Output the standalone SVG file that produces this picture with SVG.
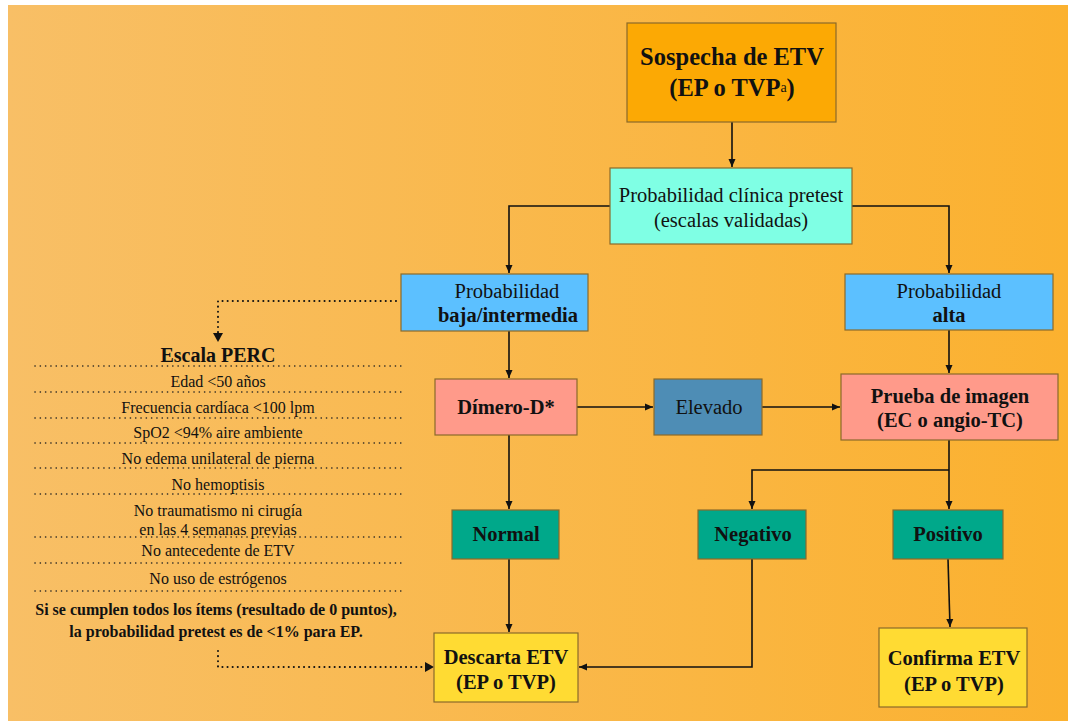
<svg xmlns="http://www.w3.org/2000/svg" width="1068" height="721" viewBox="0 0 1068 721">
<defs>
<linearGradient id="bg" x1="0" y1="0" x2="1" y2="0">
<stop offset="0" stop-color="#F8BF66"/>
<stop offset="1" stop-color="#FBB12F"/>
</linearGradient>
<marker id="ah" markerWidth="10" markerHeight="10" refX="9" refY="5" orient="auto" markerUnits="userSpaceOnUse">
<path d="M1,1.5 L9,5 L1,8.5 Z" fill="#111"/>
</marker>
</defs>
<style>
.box{stroke:#8a6a2a;stroke-width:1.2}
.t{font-family:"Liberation Serif","Times New Roman",serif;fill:#111;text-anchor:middle}
.b{font-weight:bold}
.n{font-size:20.5px}
.s{font-size:16px}
.c{fill:none;stroke:#111;stroke-width:1.6}
.d{fill:none;stroke:#111;stroke-width:2;stroke-dasharray:0.1 5;stroke-linecap:round}
.sep{fill:none;stroke:#222;stroke-width:1.6;stroke-dasharray:0.1 5.2;stroke-linecap:round}
</style>
<rect x="0" y="0" width="1068" height="721" fill="#fff"/>
<rect x="8" y="5" width="1060" height="716" fill="url(#bg)"/>

<g id="connectors">
<path class="c" d="M732,122 V167" marker-end="url(#ah)"/>
<path class="c" d="M610,206 H509 V273" marker-end="url(#ah)"/>
<path class="c" d="M852,206 H949 V273" marker-end="url(#ah)"/>
<path class="c" d="M509,331 V378" marker-end="url(#ah)"/>
<path class="c" d="M949,330 V373" marker-end="url(#ah)"/>
<path class="c" d="M577,407 H653" marker-end="url(#ah)"/>
<path class="c" d="M762,407 H840" marker-end="url(#ah)"/>
<path class="c" d="M949,440 V509" marker-end="url(#ah)"/>
<path class="c" d="M949,470 H752 V509" marker-end="url(#ah)"/>
<path class="c" d="M509,435 V509" marker-end="url(#ah)"/>
<path class="c" d="M509,559 V632" marker-end="url(#ah)"/>
<path class="c" d="M752,559 V667 H579" marker-end="url(#ah)"/>
<path class="c" d="M948,559 L950,627" marker-end="url(#ah)"/>
<path class="d" d="M396,301 H218 V333"/>
<path d="M213,333 L223,333 L218,342 Z" fill="#111"/>
<path class="d" d="M218,651 V667 H425"/>
<path d="M425,662 L434,667 L425,672 Z" fill="#111"/>
</g>

<g id="sospecha">
<rect class="box" x="627" y="23" width="209" height="99" fill="#FCA904"/>
<text class="t b" x="732" y="65" font-size="24.5">Sospecha de ETV</text>
<text class="t b" x="732" y="96" font-size="24.5">(EP o TVP<tspan font-size="14" font-weight="normal" dy="-4">a</tspan><tspan dy="4">)</tspan></text>
</g>

<g id="prob-clinica">
<rect class="box" x="610" y="168" width="242" height="76" fill="#7FFFE4"/>
<text class="t n" x="731" y="202">Probabilidad clínica pretest</text>
<text class="t n" x="731" y="227">(escalas validadas)</text>
</g>

<g id="prob-baja">
<rect class="box" x="401" y="274" width="187" height="57" fill="#5CC0FF"/>
<text class="t n" x="507" y="298">Probabilidad</text>
<text class="t b n" x="508" y="322">baja/intermedia</text>
</g>

<g id="prob-alta">
<rect class="box" x="845" y="274" width="208" height="56" fill="#5CC0FF"/>
<text class="t n" x="949" y="298">Probabilidad</text>
<text class="t b n" x="949" y="322">alta</text>
</g>

<g id="dimero">
<rect class="box" x="435" y="379" width="142" height="56" fill="#FF9A8A"/>
<text class="t b n" x="506" y="414">Dímero-D*</text>
</g>

<g id="elevado">
<rect class="box" x="654" y="379" width="108" height="56" fill="#4E8DB5"/>
<text class="t n" x="709" y="414">Elevado</text>
</g>

<g id="prueba">
<rect class="box" x="841" y="374" width="217" height="66" fill="#FF9A8A"/>
<text class="t b n" x="950" y="403">Prueba de imagen</text>
<text class="t b n" x="950" y="427">(EC o angio-TC)</text>
</g>

<g id="normal">
<rect class="box" x="452" y="510" width="107" height="49" fill="#00A88A"/>
<text class="t b n" x="506" y="541">Normal</text>
</g>

<g id="negativo">
<rect class="box" x="698" y="510" width="108" height="49" fill="#00A88A"/>
<text class="t b n" x="753" y="541">Negativo</text>
</g>

<g id="positivo">
<rect class="box" x="893" y="510" width="110" height="49" fill="#00A88A"/>
<text class="t b n" x="948" y="541">Positivo</text>
</g>

<g id="descarta">
<rect class="box" x="434" y="633" width="144" height="69" fill="#FFDB33"/>
<text class="t b n" x="506" y="664">Descarta ETV</text>
<text class="t b n" x="506" y="689">(EP o TVP)</text>
</g>

<g id="confirma">
<rect class="box" x="879" y="628" width="148" height="79" fill="#FFDB33"/>
<text class="t b n" x="954" y="665">Confirma ETV</text>
<text class="t b n" x="954" y="691">(EP o TVP)</text>
</g>

<g id="perc">
<text class="t b" x="218" y="362" font-size="20">Escala PERC</text>
<path class="sep" d="M35,366 H405 M35,392 H405 M35,418 H405 M35,443 H405 M35,468 H405 M35,494 H405 M35,537 H405 M35,563 H405 M35,591 H405"/>
<text class="t s" x="218" y="387">Edad &lt;50 años</text>
<text class="t s" x="218" y="413">Frecuencia cardíaca &lt;100 lpm</text>
<text class="t s" x="218" y="438">SpO2 &lt;94% aire ambiente</text>
<text class="t s" x="218" y="464">No edema unilateral de pierna</text>
<text class="t s" x="218" y="490">No hemoptisis</text>
<text class="t s" x="218" y="516">No traumatismo ni cirugía</text>
<text class="t s" x="218" y="535">en las 4 semanas previas</text>
<text class="t s" x="218" y="556">No antecedente de ETV</text>
<text class="t s" x="218" y="584">No uso de estrógenos</text>
<text class="t b s" x="216" y="615">Si se cumplen todos los ítems (resultado de 0 puntos),</text>
<text class="t b s" x="216" y="637">la probabilidad pretest es de &lt;1% para EP.</text>
</g>
</svg>
